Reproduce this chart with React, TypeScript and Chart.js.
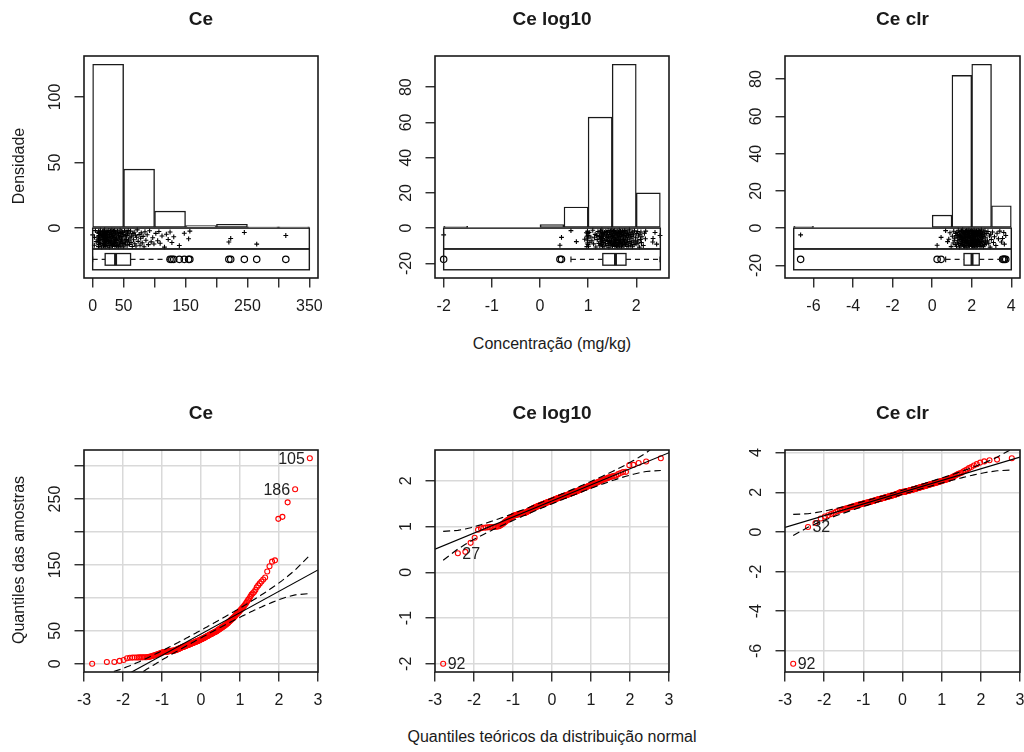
import React, { useEffect, useRef } from "react";
import { Chart, registerables } from "chart.js";

Chart.register(...registerables);

// ---------------- data (sorted sample values, n = 190) ----------------
const ceValues = [
  0.01, 2.6, 2.8, 4.4, 5.7, 8.5, 9.2, 9.4, 9.5, 9.6,
  9.7, 9.8, 9.8, 9.9, 9.9, 10.0, 10.2, 10.5, 10.9, 11.4,
  12.0, 12.5, 13.0, 13.5, 14.0, 14.5, 15.0, 15.5, 16.0, 16.6,
  17.2, 17.5, 17.7, 17.9, 18.1, 18.3, 18.5, 18.7, 18.9, 19.1,
  19.3, 19.5, 19.6, 19.7, 19.8, 19.9, 20.0, 20.2, 20.6, 21.0,
  21.4, 21.8, 22.2, 22.6, 23.0, 23.4, 23.8, 24.2, 24.6, 25.0,
  25.3, 25.6, 26.0, 26.3, 26.6, 27.0, 27.3, 27.6, 28.0, 28.3,
  28.6, 29.0, 29.3, 29.6, 30.0, 30.3, 30.6, 31.0, 31.3, 31.6,
  32.0, 32.3, 32.6, 33.0, 33.3, 33.6, 34.0, 34.3, 34.6, 35.0,
  35.3, 35.6, 36.0, 36.4, 36.8, 37.2, 37.6, 38.0, 38.4, 38.8,
  39.2, 39.6, 40.0, 40.5, 41.0, 41.4, 41.8, 42.2, 42.6, 43.0,
  43.5, 44.0, 44.4, 44.8, 45.2, 45.6, 46.0, 46.5, 47.0, 47.4,
  47.8, 48.2, 48.6, 49.0, 49.5, 50.2, 50.8, 51.4, 52.0, 52.6,
  53.2, 53.8, 54.4, 55.0, 55.6, 56.2, 56.8, 57.4, 58.0, 58.8,
  59.6, 60.4, 61.2, 62.0, 63.0, 64.0, 65.0, 66.0, 67.0, 68.0,
  69.0, 70.0, 71.0, 72.0, 73.5, 75.0, 76.5, 77.5, 78.5, 80.0,
  81.5, 83.0, 84.5, 86.0, 88.0, 90.0, 92.0, 94.5, 97.0, 99.0,
  102, 105, 107, 109, 112, 116, 119, 122, 125, 128,
  131, 140, 148, 155, 157, 220, 223, 245, 265, 312,
];

const clrValues = [
  -6.65, 0.25, 0.45, 0.68, 0.78, 0.84, 0.9, 0.96, 1.02, 1.06,
  1.09, 1.12, 1.14, 1.17, 1.19, 1.21, 1.23, 1.25, 1.27, 1.29,
  1.3, 1.32, 1.33, 1.35, 1.36, 1.38, 1.39, 1.4, 1.41, 1.42,
  1.44, 1.45, 1.46, 1.47, 1.48, 1.49, 1.5, 1.51, 1.52, 1.53,
  1.54, 1.55, 1.56, 1.57, 1.58, 1.59, 1.6, 1.61, 1.62, 1.63,
  1.64, 1.65, 1.66, 1.66, 1.67, 1.68, 1.69, 1.7, 1.71, 1.71,
  1.72, 1.73, 1.74, 1.75, 1.76, 1.76, 1.77, 1.78, 1.79, 1.8,
  1.8, 1.81, 1.82, 1.83, 1.84, 1.84, 1.85, 1.86, 1.87, 1.88,
  1.88, 1.89, 1.9, 1.91, 1.92, 1.93, 1.94, 1.95, 1.96, 1.98,
  2.0, 2.0, 2.01, 2.01, 2.01, 2.02, 2.02, 2.02, 2.03, 2.03,
  2.04, 2.05, 2.05, 2.06, 2.07, 2.07, 2.08, 2.09, 2.09, 2.1,
  2.11, 2.12, 2.12, 2.13, 2.14, 2.15, 2.15, 2.16, 2.17, 2.18,
  2.19, 2.19, 2.2, 2.21, 2.22, 2.23, 2.24, 2.24, 2.25, 2.26,
  2.27, 2.28, 2.29, 2.3, 2.3, 2.31, 2.32, 2.33, 2.34, 2.35,
  2.36, 2.37, 2.38, 2.39, 2.4, 2.41, 2.42, 2.43, 2.44, 2.45,
  2.46, 2.47, 2.48, 2.49, 2.5, 2.52, 2.53, 2.54, 2.55, 2.57,
  2.58, 2.59, 2.61, 2.62, 2.64, 2.65, 2.67, 2.69, 2.71, 2.73,
  2.76, 2.79, 2.82, 2.86, 2.9, 2.93, 2.96, 2.99, 3.05, 3.1,
  3.15, 3.22, 3.28, 3.35, 3.42, 3.5, 3.56, 3.62, 3.65, 3.72,
];

// vertical jitter of the strip-chart points (fraction of half spread)
const stripJitter = [
  0.42, -0.77, 0.13, 0.91, -0.35, -0.08, 0.66, -0.92, 0.27, -0.51,
  0.84, -0.19, 0.05, -0.68, 0.58, 0.33, -0.88, 0.71, -0.43, 0.17,
  -0.26, 0.95, -0.61, 0.09, 0.48, -0.97, 0.36, -0.12, 0.79, -0.55,
  0.22, -0.83, 0.63, -0.04, 0.89, -0.39, 0.14, -0.72, 0.51, -0.3,
  0.98, -0.66, 0.31, -0.15, 0.74, -0.86, 0.02, 0.57, -0.47, 0.26,
  -0.93, 0.69, -0.21, 0.44, -0.59, 0.81, -0.07, 0.38, -0.79, 0.11,
  0.67, -0.33, 0.92, -0.53, 0.19, -0.99, 0.46, -0.24, 0.73, -0.63,
  0.07, 0.87, -0.41, 0.29, -0.75, 0.54, -0.16, 0.96, -0.49, 0.23,
  -0.84, 0.61, -0.02, 0.35, -0.69, 0.82, -0.28, 0.12, -0.57, 0.93,
  -0.37, 0.49, -0.89, 0.18, 0.64, -0.11, 0.77, -0.45, 0.03, -0.81,
  0.53, -0.23, 0.86, -0.65, 0.32, -0.95, 0.41, -0.06, 0.71, -0.52,
  0.16, -0.74, 0.97, -0.31, 0.58, -0.87, 0.24, -0.14, 0.83, -0.42,
  0.06, 0.68, -0.58, 0.39, -0.96, 0.47, -0.27, 0.88, -0.71, 0.21,
  -0.48, 0.76, -0.09, 0.34, -0.82, 0.62, -0.36, 0.94, -0.18, 0.52,
  -0.67, 0.08, 0.85, -0.44, 0.28, -0.91, 0.56, -0.13, 0.72, -0.6,
  0.37, -0.85, 0.15, 0.99, -0.32, 0.45, -0.76, 0.04, 0.65, -0.5,
  0.25, -0.94, 0.78, -0.2, 0.43, -0.7, 0.9, -0.38, 0.1, -0.62,
  0.59, -0.25, 0.8, -0.54, 0.3, -0.98, 0.5, -0.1, 0.75, -0.46,
  0.2, -0.8, 0.6, -0.03, 0.85, -0.4, 0.01, 0.7, -0.64, 0.35,
];

// log10 transform of the Ce samples (the quantity plotted in "Ce log10")
const log10Values = ceValues.map((v) => Math.log10(v));

// histogram bins and counts
const ceHistBreaks = [0, 50, 100, 150, 200, 250, 300, 350];
const ceHistCounts = [125, 45, 13, 2, 3, 1, 1];
const logHistBreaks = [-2, -1.5, -1, -0.5, 0, 0.5, 1, 1.5, 2, 2.5];
const logHistCounts = [1, 0, 0, 0, 2, 12, 63, 93, 20];
const clrHistBreaks = [-7, -6, -5, -4, -3, -2, -1, 0, 1, 2, 3, 4];
const clrHistCounts = [1, 0, 0, 0, 0, 0, 0, 7, 82, 88, 12];

// axis ticks and labels
const ceHistXTicks = [0, 50, 100, 150, 200, 250, 300, 350];
const ceHistXLabels = [0, 50, 150, 250, 350];
const ceHistYTicks = [0, 50, 100];
const logHistXTicks = [-2, -1, 0, 1, 2];
const logHistYTicks = [-20, 0, 20, 40, 60, 80];
const clrHistXTicks = [-6, -4, -2, 0, 2, 4];
const clrHistYTicks = [-20, 0, 20, 40, 60, 80];
const qqXTicks = [-3, -2, -1, 0, 1, 2, 3];
const ceQQYTicks = [0, 50, 100, 150, 200, 250, 300];
const ceQQYLabels = [0, 50, 150, 250];
const logQQYTicks = [-2, -1, 0, 1, 2];
const clrQQYTicks = [-6, -4, -2, 0, 2, 4];

// identified points in the Q-Q plots (rank in sorted sample -> sample id)
const ceIdRanks = [190, 189];
const ceIdLabels = ["105", "186"];
const logIdRanks = [1, 2];
const logIdLabels = ["92", "27"];
const clrIdRanks = [1, 2];
const clrIdLabels = ["92", "32"];

// ---------------- style / layout ----------------
const FONT = '"Liberation Sans", Arial, Helvetica, sans-serif';
const INK = "#1a1a1a";
const GRID = "#d9d9d9";
const PAD_L = 80, PAD_T = 60, PAD_R = 24, PAD_B = 50;
const AX_W = 45, AX_H = 45;
const BAND_FRAC = 0.127;

// ---------------- helpers ----------------
function qnorm(p: number): number {
  const a = [-3.969683028665376e1, 2.209460984245205e2, -2.759285104469687e2, 1.38357751867269e2, -3.066479806614716e1, 2.506628277459239];
  const b = [-5.447609879822406e1, 1.615858368580409e2, -1.556989798598866e2, 6.680131188771972e1, -1.328068155288572e1];
  const c = [-7.784894002430293e-3, -3.223964580411365e-1, -2.400758277161838, -2.549732539343734, 4.374664141464968, 2.938163982698783];
  const d = [7.784695709041462e-3, 3.224671290700398e-1, 2.445134137142996, 3.754408661907416];
  const pl = 0.02425, ph = 1 - pl;
  let q: number, r: number;
  if (p < pl) {
    q = Math.sqrt(-2 * Math.log(p));
    return (((((c[0] * q + c[1]) * q + c[2]) * q + c[3]) * q + c[4]) * q + c[5]) / ((((d[0] * q + d[1]) * q + d[2]) * q + d[3]) * q + 1);
  }
  if (p <= ph) {
    q = p - 0.5; r = q * q;
    return ((((((a[0] * r + a[1]) * r + a[2]) * r + a[3]) * r + a[4]) * r + a[5]) * q) / (((((b[0] * r + b[1]) * r + b[2]) * r + b[3]) * r + b[4]) * r + 1);
  }
  q = Math.sqrt(-2 * Math.log(1 - p));
  return -(((((c[0] * q + c[1]) * q + c[2]) * q + c[3]) * q + c[4]) * q + c[5]) / ((((d[0] * q + d[1]) * q + d[2]) * q + d[3]) * q + 1);
}
const dnorm = (z: number) => Math.exp(-0.5 * z * z) / Math.sqrt(2 * Math.PI);

// robust (Huber M-estimate) line, as car::qqPlot(line = "robust")
function huberLine(x: number[], y: number[]): [number, number] {
  const n = x.length;
  let w = new Array(n).fill(1);
  let a = 0, b = 0;
  for (let it = 0; it < 200; it++) {
    let sw = 0, sx = 0, sy = 0, sxx = 0, sxy = 0;
    for (let i = 0; i < n; i++) {
      const wi = w[i];
      sw += wi; sx += wi * x[i]; sy += wi * y[i]; sxx += wi * x[i] * x[i]; sxy += wi * x[i] * y[i];
    }
    const nb = (sw * sxy - sx * sy) / (sw * sxx - sx * sx);
    const na = (sy - nb * sx) / sw;
    const res = y.map((v, i) => v - na - nb * x[i]);
    const abs = res.map(Math.abs).sort((p, q) => p - q);
    const med = n % 2 ? abs[(n - 1) / 2] : (abs[n / 2 - 1] + abs[n / 2]) / 2;
    const s = med / 0.6745;
    w = res.map((r) => { const u = Math.abs(r / s); return u <= 1.345 ? 1 : 1.345 / u; });
    const done = it > 0 && Math.abs(na - a) + Math.abs(nb - b) < 1e-10;
    a = na; b = nb;
    if (done) break;
  }
  return [a, b];
}

function boxStats(s: number[]) {
  const n = s.length;
  const n4 = Math.floor((n + 3) / 2) / 2;
  const d = [1, n4, (n + 1) / 2, n + 1 - n4, n];
  const f = d.map((di) => 0.5 * (s[Math.floor(di) - 1] + s[Math.ceil(di) - 1]));
  const iqr = f[3] - f[1];
  const lof = f[1] - 1.5 * iqr, upf = f[3] + 1.5 * iqr;
  const inside = s.filter((v) => v >= lof && v <= upf);
  return { lo: inside[0], h1: f[1], med: f[2], h3: f[3], hi: inside[inside.length - 1], out: s.filter((v) => v < lof || v > upf) };
}

function xScale(min: number, max: number, ticks: number[], labels: number[], onArea: boolean) {
  return {
    type: "linear", min, max, offset: false,
    afterBuildTicks: (s: any) => { s.ticks = ticks.map((v) => ({ value: v })); },
    afterFit: (s: any) => { s.height = AX_H; },
    ticks: {
      autoSkip: false, maxRotation: 0, minRotation: 0, padding: 9.4, color: INK,
      font: { family: FONT, size: 16 },
      callback: (v: any) => (labels.includes(Number(v)) ? String(v) : ""),
    },
    grid: { offset: false, drawOnChartArea: onArea, color: GRID, lineWidth: 1.5, tickLength: 9.5, tickColor: INK, tickWidth: 1.3 },
    border: { display: false },
  };
}
function yScale(min: number, max: number, ticks: number[], onArea: boolean) {
  return {
    type: "linear", min, max, offset: false, beginAtZero: false,
    afterBuildTicks: (s: any) => { s.ticks = ticks.map((v) => ({ value: v })); },
    afterFit: (s: any) => { s.width = AX_W; },
    ticks: { display: false },
    grid: { offset: false, drawOnChartArea: onArea, color: GRID, lineWidth: 1.5, tickLength: 9.5, tickColor: INK, tickWidth: 1.3 },
    border: { display: false },
  };
}

const commonOptions = {
  responsive: false, maintainAspectRatio: false, animation: false, devicePixelRatio: 1, events: [],
  layout: { padding: { left: PAD_L - AX_W, top: PAD_T, right: PAD_R, bottom: PAD_B - AX_H } },
  plugins: { legend: { display: false }, tooltip: { enabled: false }, title: { display: false } },
};

function framePlugin(title: string, yLabels: number[], extra?: (chart: any) => void) {
  return {
    id: "rframe",
    afterDatasetsDraw(chart: any) { if (extra) extra(chart); },
    afterDraw(chart: any) {
      const { ctx, chartArea: a, scales } = chart;
      ctx.save();
      ctx.strokeStyle = INK; ctx.lineWidth = 1.6; ctx.setLineDash([]);
      ctx.strokeRect(a.left, a.top, a.right - a.left, a.bottom - a.top);
      ctx.fillStyle = INK; ctx.textAlign = "center"; ctx.textBaseline = "middle";
      ctx.font = `bold 19px ${FONT}`;
      ctx.fillText(title, (a.left + a.right) / 2, a.top - 36);
      ctx.font = `16px ${FONT}`;
      for (const v of yLabels) {
        const py = scales.y.getPixelForValue(v);
        ctx.save(); ctx.translate(a.left - 28, py); ctx.rotate(-Math.PI / 2);
        ctx.fillText(String(v), 0, 0); ctx.restore();
      }
      ctx.restore();
    },
  };
}

function histConfig(p: any) {
  const maxC = Math.max(...p.counts);
  const band = BAND_FRAC * maxC;
  const lo = p.breaks[0], hi = p.breaks[p.breaks.length - 1];
  const xmin = lo - 0.04 * (hi - lo), xmax = hi + 0.04 * (hi - lo);
  const ylo = -2 * band, yhi = maxC;
  const ymin = ylo - 0.04 * (yhi - ylo), ymax = yhi + 0.04 * (yhi - ylo);
  const bs = boxStats(p.values);
  const bars = p.counts.map((c: number, i: number) => ({ x: (p.breaks[i] + p.breaks[i + 1]) / 2, y: c }));
  const strip = p.values.map((v: number, i: number) => ({ x: v, y: -band / 2 + stripJitter[i % stripJitter.length] * 0.42 * band }));
  const outs = bs.out.map((v: number) => ({ x: v, y: -1.5 * band }));

  const extra = (chart: any) => {
    const { ctx, scales: { x, y } } = chart;
    const X = (v: number) => x.getPixelForValue(v), Y = (v: number) => y.getPixelForValue(v);
    const line = (x1: number, y1: number, x2: number, y2: number) => { ctx.beginPath(); ctx.moveTo(x1, y1); ctx.lineTo(x2, y2); ctx.stroke(); };
    ctx.save();
    ctx.strokeStyle = INK; ctx.lineWidth = 1.4;
    ctx.strokeRect(X(lo), Y(0), X(hi) - X(lo), Y(-band) - Y(0));
    ctx.strokeRect(X(lo), Y(-band), X(hi) - X(lo), Y(-2 * band) - Y(-band));
    const yc = Y(-1.5 * band);
    const hh = (Y(-band) - Y(0)) * 0.28;
    ctx.lineWidth = 1.2;
    ctx.setLineDash([5, 4]);
    line(X(bs.lo), yc, X(bs.h1), yc);
    line(X(bs.h3), yc, X(bs.hi), yc);
    ctx.setLineDash([]);
    line(X(bs.lo), yc - hh / 2, X(bs.lo), yc + hh / 2);
    line(X(bs.hi), yc - hh / 2, X(bs.hi), yc + hh / 2);
    ctx.fillStyle = "#fff";
    ctx.fillRect(X(bs.h1), yc - hh, X(bs.h3) - X(bs.h1), 2 * hh);
    ctx.lineWidth = 1.3;
    ctx.strokeRect(X(bs.h1), yc - hh, X(bs.h3) - X(bs.h1), 2 * hh);
    ctx.lineWidth = 3;
    line(X(bs.med), yc - hh, X(bs.med), yc + hh);
    ctx.restore();
  };

  return {
    type: "scatter",
    data: {
      datasets: [
        { type: "bar", data: bars, backgroundColor: "#ffffff", borderColor: INK, borderWidth: 1.4, borderSkipped: false, barPercentage: 1, categoryPercentage: 1, order: 3 },
        { type: "scatter", data: strip, pointStyle: "cross", pointRadius: 2.4, pointBorderColor: "#000", pointBorderWidth: 1.1, order: 2 },
        { type: "scatter", data: outs, pointStyle: "circle", pointRadius: 3.2, pointBorderColor: "#000", pointBackgroundColor: "rgba(0,0,0,0)", pointBorderWidth: 1.2, order: 1 },
      ],
    },
    options: {
      ...commonOptions,
      scales: { x: xScale(xmin, xmax, p.xTicks, p.xLabels, false), y: yScale(ymin, ymax, p.yTicks, false) },
    },
    plugins: [framePlugin(p.title, p.yLabels, extra)],
  };
}

function qqConfig(p: any) {
  const vals: number[] = p.values;
  const n = vals.length;
  const P = vals.map((_, i) => (i + 0.5) / n);
  const z = P.map(qnorm);
  const [a, b] = huberLine(z, vals);
  const zc = qnorm(0.975);
  const se = z.map((zi, i) => zc * (b / dnorm(zi)) * Math.sqrt((P[i] * (1 - P[i])) / n));
  const lo = Math.min(...vals), hi = Math.max(...vals);
  const ymin = lo - 0.04 * (hi - lo), ymax = hi + 0.04 * (hi - lo);
  const pts = vals.map((v, i) => ({ x: z[i], y: v }));
  const fit = [-3, 3].map((zx) => ({ x: zx, y: a + b * zx }));
  const upper = z.map((zi, i) => ({ x: zi, y: a + b * zi + se[i] }));
  const lower = z.map((zi, i) => ({ x: zi, y: a + b * zi - se[i] }));

  const extra = (chart: any) => {
    const { ctx, scales: { x, y } } = chart;
    ctx.save();
    ctx.fillStyle = "#222"; ctx.font = `16px ${FONT}`; ctx.textBaseline = "middle";
    p.idRanks.forEach((r: number, k: number) => {
      const px = x.getPixelForValue(z[r - 1]);
      const py = y.getPixelForValue(vals[r - 1]);
      if (z[r - 1] < 0) { ctx.textAlign = "left"; ctx.fillText(p.idLabels[k], px + 4.5, py + 1); }
      else { ctx.textAlign = "right"; ctx.fillText(p.idLabels[k], px - 5, py + 1); }
    });
    ctx.restore();
  };

  const lineDs = (data: any[], dash: number[]) => ({
    type: "line", data, showLine: true, borderColor: "#000", borderWidth: 1.15, borderDash: dash, pointRadius: 0, fill: false, tension: 0, order: 1,
  });
  return {
    type: "scatter",
    data: {
      datasets: [
        lineDs(fit, []),
        lineDs(upper, [7, 4]),
        lineDs(lower, [7, 4]),
        { type: "scatter", data: pts, pointStyle: "circle", pointRadius: 2.5, pointBorderColor: "#ff0000", pointBackgroundColor: "rgba(0,0,0,0)", pointBorderWidth: 1.1, order: 2 },
      ],
    },
    options: {
      ...commonOptions,
      scales: { x: xScale(-3, 3, qqXTicks, qqXTicks, true), y: yScale(ymin, ymax, p.yTicks, true) },
    },
    plugins: [framePlugin(p.title, p.yLabels, extra)],
  };
}

const PANELS = [
  { kind: "hist", title: "Ce", values: ceValues, breaks: ceHistBreaks, counts: ceHistCounts, xTicks: ceHistXTicks, xLabels: ceHistXLabels, yTicks: ceHistYTicks, yLabels: ceHistYTicks, box: [84, 56, 318, 278] },
  { kind: "hist", title: "Ce log10", values: log10Values, breaks: logHistBreaks, counts: logHistCounts, xTicks: logHistXTicks, xLabels: logHistXTicks, yTicks: logHistYTicks, yLabels: logHistYTicks, box: [435, 56, 669, 278] },
  { kind: "hist", title: "Ce clr", values: clrValues, breaks: clrHistBreaks, counts: clrHistCounts, xTicks: clrHistXTicks, xLabels: clrHistXTicks, yTicks: clrHistYTicks, yLabels: clrHistYTicks, box: [785, 56, 1020, 278] },
  { kind: "qq", title: "Ce", values: ceValues, yTicks: ceQQYTicks, yLabels: ceQQYLabels, idRanks: ceIdRanks, idLabels: ceIdLabels, box: [84, 450, 318, 672] },
  { kind: "qq", title: "Ce log10", values: log10Values, yTicks: logQQYTicks, yLabels: logQQYTicks, idRanks: logIdRanks, idLabels: logIdLabels, box: [435, 450, 669, 672] },
  { kind: "qq", title: "Ce clr", values: clrValues, yTicks: clrQQYTicks, yLabels: clrQQYTicks, idRanks: clrIdRanks, idLabels: clrIdLabels, box: [785, 450, 1020, 672] },
];

function Panel({ spec }: { spec: any }) {
  const ref = useRef<HTMLCanvasElement | null>(null);
  useEffect(() => {
    if (!ref.current) return;
    const cfg: any = spec.kind === "hist" ? histConfig(spec) : qqConfig(spec);
    const chart = new Chart(ref.current, cfg);
    return () => chart.destroy();
  }, [spec]);
  const [x0, y0, x1, y1] = spec.box;
  const w = x1 - x0 + PAD_L + PAD_R;
  const h = y1 - y0 + PAD_T + PAD_B;
  return (
    <canvas ref={ref} width={w} height={h}
      style={{ position: "absolute", left: x0 - PAD_L, top: y0 - PAD_T, width: w, height: h }} />
  );
}

function Label({ text, cx, cy, vertical }: { text: string; cx: number; cy: number; vertical?: boolean }) {
  return (
    <div style={{
      position: "absolute", left: cx, top: cy, whiteSpace: "nowrap", fontFamily: FONT, fontSize: 16, lineHeight: "18px", color: INK,
      transform: `translate(-50%, -50%)${vertical ? " rotate(-90deg)" : ""}`,
    }}>{text}</div>
  );
}

export default function App() {
  return (
    <div style={{ position: "absolute", left: 0, top: 0, width: 1024, height: 752, overflow: "hidden", background: "#ffffff" }}>
      {PANELS.map((p, i) => <Panel key={i} spec={p} />)}
      <Label text="Densidade" cx={19} cy={166} vertical />
      <Label text="Concentração (mg/kg)" cx={552} cy={344} />
      <Label text="Quantiles das amostras" cx={19} cy={560} vertical />
      <Label text="Quantiles teóricos da distribuição normal" cx={552} cy={737} />
    </div>
  );
}
